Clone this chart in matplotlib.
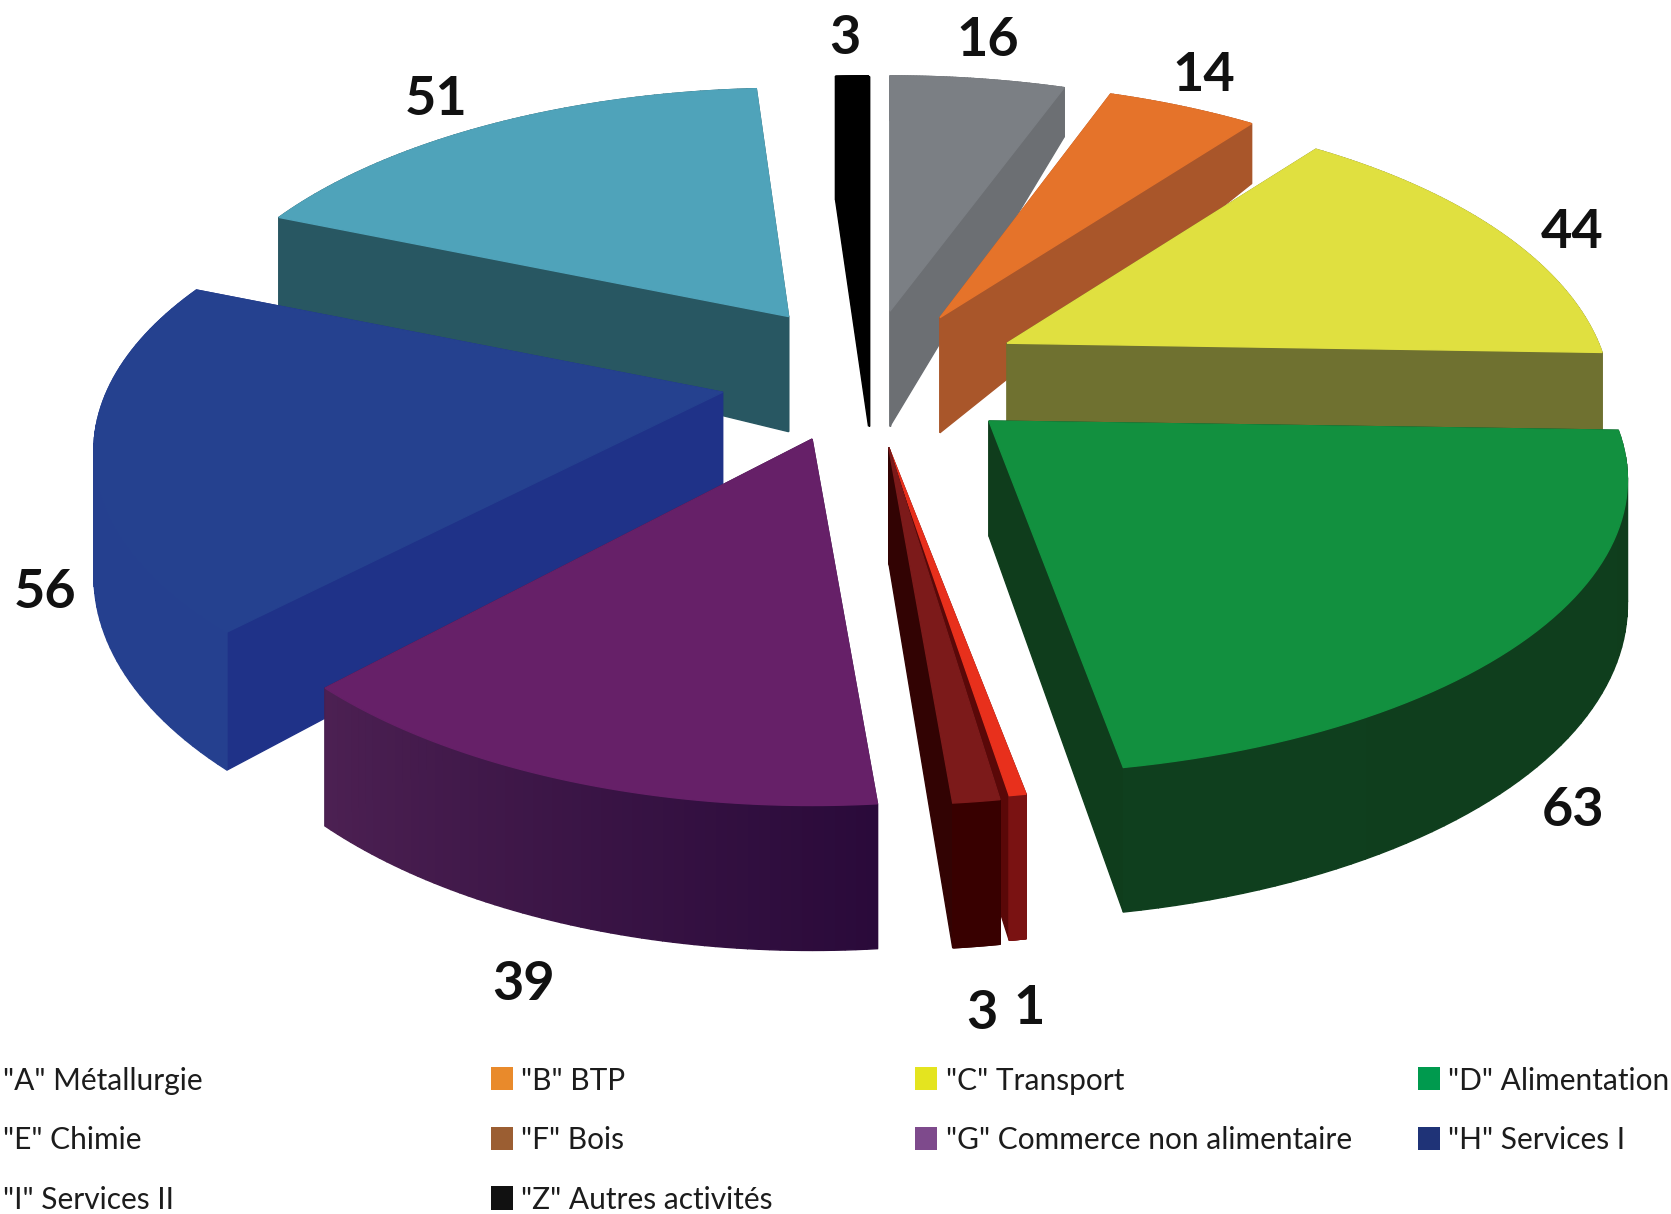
import numpy as np
import matplotlib
matplotlib.use("Agg")
import matplotlib.pyplot as plt
from matplotlib.colors import to_rgb
from matplotlib.patches import Polygon, Rectangle

# slices clockwise from the top
codes = ["A", "B", "C", "D", "E", "F", "G", "H", "I", "Z"]
activities = ['"A" Métallurgie', '"B" BTP', '"C" Transport', '"D" Alimentation', '"E" Chimie',
              '"F" Bois', '"G" Commerce non alimentaire', '"H" Services I', '"I" Services II',
              '"Z" Autres activités']
counts = [16, 14, 44, 63, 1, 3, 39, 56, 51, 3]

# look of the slices
top_colors = dict(A="#7b7f84", B="#e5732a", C="#e0e040", D="#12903f", E="#e8301c",
                  F="#7c1a1a", G="#662068", H="#25418f", I="#4fa3ba", Z="#000000")
side_colors = dict(A="#6c6f73", B="#a9562a", C="#6f7130", D="#0f3d1c", E="#5a0808",
                   F="#320303", G="#3c1a48", H="#1f3288", I="#285762", Z="#000000")
wall_from = dict(A="#6c6f73", B="#a9562a", C="#6f7130", D="#0f3d1c", E="#7a1212",
                 F="#380000", G="#2a0a3a", H="#25408f", I="#285762", Z="#000000")
wall_to = dict(A="#6c6f73", B="#a9562a", C="#6f7130", D="#0f3f1e", E="#7a1212",
               F="#380000", G="#4c2052", H="#25408f", I="#285762", Z="#000000")

# layout, in pixels of a 1568 wide canvas
apex = dict(A=(835, 292), B=(882, 298), C=(945, 322), D=(928, 395), E=(834, 420),
            F=(834, 420), G=(762, 412), H=(678, 368), I=(740, 297), Z=(815, 292))
radius_x = dict(A=572, B=560, C=555, D=587, E=600, F=555, G=568, H=578, I=560, Z=572)
radius_y = dict(A=265, B=265, C=265, D=265, E=265, F=268, G=275, H=265, I=257, Z=265)
perspective = 0.2
flat_drop = dict(Z=116)
draw_order = ["Z", "A", "I", "B", "C", "H", "D", "G", "E", "F"]
label_pos = dict(A=(927, 38), B=(1130, 71), C=(1475, 218), D=(1476, 760), E=(966, 946),
                 F=(921, 951), G=(491, 924), H=(42, 556), I=(409, 93), Z=(793, 36))
legend_rows = [1014, 1070, 1126]
legend_text_x = [3, 489, 888, 1359]
legend_box_x = [None, 461, 859, 1331]
legend_colors = dict(B="#e98a2b", C="#e4e41f", D="#009a4e", F="#9b5e32", G="#7e4a8c",
                     H="#1f3377", Z="#111111")


def outline(code, theta):
    # point of the disc seen in perspective, around the apex of the slice
    u, v = np.sin(theta), np.cos(theta)
    d = 1 + perspective * v
    ax0, ay0 = apex[code]
    return ax0 + radius_x[code] * u / d, ay0 - radius_y[code] * v / d


def drop(code, theta):
    v = np.cos(theta)
    if code in flat_drop:
        return np.full_like(v, flat_drop[code])
    return np.where(v > 0, 112 - 70 * v, 112 - 24 * v)


fig = plt.figure(figsize=(16.71, 12.14), dpi=100)
ax = fig.add_axes([0, 0, 1, 1])
ax.set_xlim(0, 1568)
ax.set_ylim(1139, 0)
ax.axis("off")

total = sum(counts)
ends = np.cumsum(counts) / total * 2 * np.pi
starts = ends - np.array(counts) / total * 2 * np.pi
angles = {c: (s, e) for c, s, e in zip(codes, starts, ends)}


def face(points, color, z):
    ax.add_patch(Polygon(points, closed=True, facecolor=color, edgecolor=color, linewidth=1.0, zorder=z))


for z, code in enumerate(draw_order):
    s, e = angles[code]
    thetas = np.linspace(s, e, 60)
    xs, ys = outline(code, thetas)
    depth = drop(code, thetas)
    ax0, ay0 = apex[code]

    for i in (0, -1):
        face([(ax0, ay0), (xs[i], ys[i]), (xs[i], ys[i] + depth[i]), (ax0, ay0 + 108)], side_colors[code], z + 0.1)

    c0, c1 = np.array(to_rgb(wall_from[code])), np.array(to_rgb(wall_to[code]))
    for i in range(len(xs) - 1):
        t = i / (len(xs) - 2)
        face([(xs[i], ys[i]), (xs[i + 1], ys[i + 1]),
              (xs[i + 1], ys[i + 1] + depth[i + 1]), (xs[i], ys[i] + depth[i])],
             tuple(c0 + (c1 - c0) * t), z + 0.2)

    face([(ax0, ay0)] + list(zip(xs, ys)), top_colors[code], z + 0.3)

for code, count in zip(codes, counts):
    ax.text(*label_pos[code], str(count), ha="center", va="center", family="Lato",
            fontweight="bold", fontsize=39, color="#111111", zorder=50)

for i, (code, name) in enumerate(zip(codes, activities)):
    row = min(i // 4, 2)
    col = i % 4
    y = legend_rows[row]
    ax.text(legend_text_x[col], y, name, ha="left", va="center", family="Lato",
            fontsize=21.5, color="#1c1c1c", zorder=50)
    if code in legend_colors:
        ax.add_patch(Rectangle((legend_box_x[col], y - 13), 20, 22, facecolor=legend_colors[code],
                               edgecolor="none", zorder=50))

fig.savefig("out.png", dpi=100)
